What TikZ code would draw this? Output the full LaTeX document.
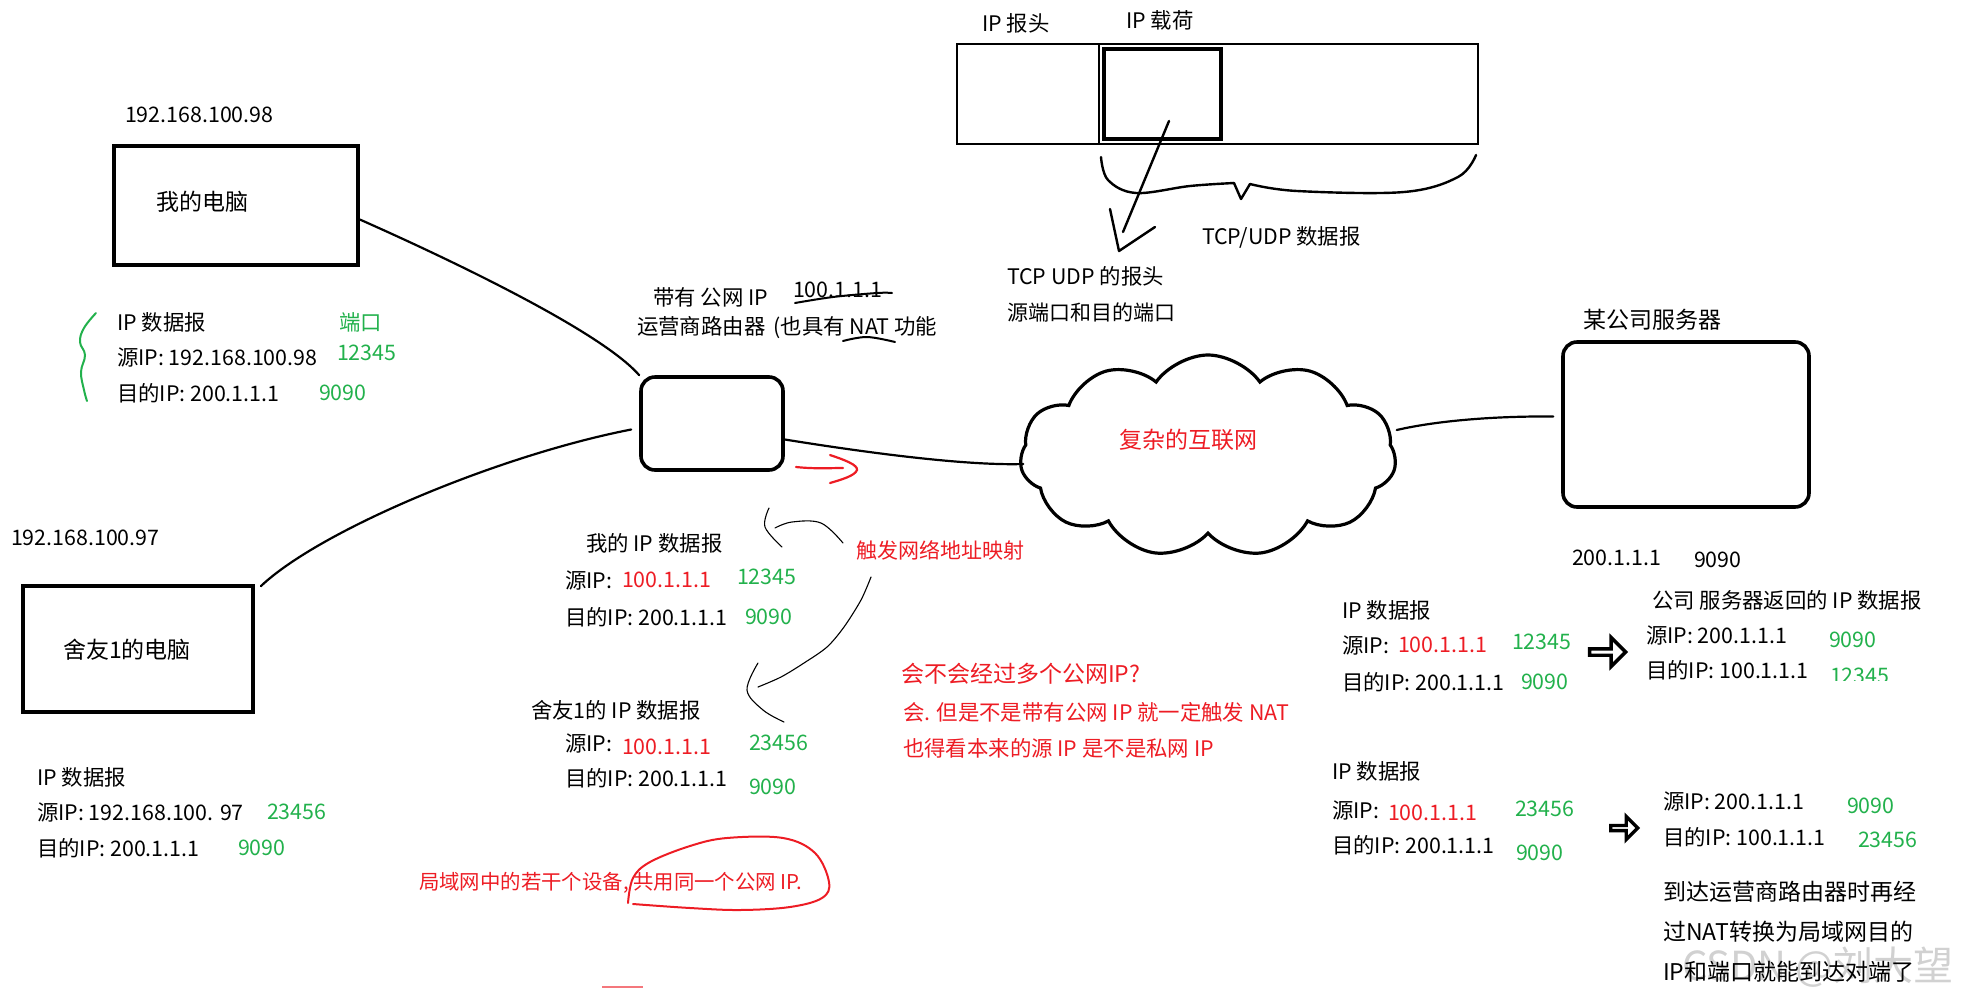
\documentclass[tikz,border=0pt]{standalone}
\usepackage{fontspec}
\setmainfont{Noto Sans CJK SC}
\usetikzlibrary{shapes.symbols,shapes.arrows}
\definecolor{pred}{HTML}{ED1C24}
\definecolor{pgreen}{HTML}{22B14C}
\newcommand{\fsA}{\fontsize{10.7}{12}\selectfont}
\newcommand{\fsB}{\fontsize{11.5}{13}\selectfont}
\newcommand{\fsC}{\fontsize{10.5}{12}\selectfont}
\newcommand{\fsD}{\fontsize{10.2}{12}\selectfont}
\begin{document}
\begin{tikzpicture}[x=0.5pt,y=-0.5pt,
  txt/.style={anchor=west, inner sep=0pt, outer sep=0pt, font=\fsA},
  rt/.style={txt, text=pred},
  gt/.style={txt, text=pgreen},
  boxA/.style={draw, line width=1.8pt, inner sep=0pt},
  wire/.style={line width=1.1pt, line cap=round},
  thinline/.style={line width=0.55pt, line cap=round},
  fatarrow/.style={single arrow, draw, line width=1.7pt, inner sep=0pt, single arrow head extend=3pt}]
\useasboundingbox (0,0) rectangle (1965,1002);
% watermark
\node[txt, font=\fontsize{20}{22}\selectfont, text=black!18] (wm) at (1682,967) {CSDN @刘大望};

% ---------- boxes ----------
\node[boxA, minimum width=122pt, minimum height=59.5pt] (pc1) at (236,205.5) {};
\node[boxA, minimum width=115pt, minimum height=63pt] (pc2) at (138,649) {};
\node[boxA, rounded corners=7pt, minimum width=71pt, minimum height=46.5pt] (router) at (712,423.5) {};
\node[boxA, rounded corners=7pt, minimum width=123pt, minimum height=82.5pt] (server) at (1686,424.5) {};
\node[cloud, draw, cloud puffs=11, cloud puff arc=110, aspect=1.9, line width=1.6pt, minimum width=188pt, minimum height=101pt, inner sep=0pt] (net) at (1208,456) {};

% IP packet
\node[draw, line width=1.4pt, minimum width=260.5pt, minimum height=50pt, inner sep=0pt] (pkt) at (1217.5,94) {};
\draw[line width=1.4pt] (1099,44) -- (1099,144);
\node[draw, line width=1.9pt, minimum width=58.5pt, minimum height=45pt, inner sep=0pt] (payload) at (1162.5,94) {};

% ---------- connectors ----------
\draw[wire] ([yshift=-7pt]pc1.east) .. controls (440,255) and (600,330) .. (router.north west);
\draw[wire] ([xshift=3pt,yshift=-1pt]pc2.north east) .. controls (320,530) and (500,455) .. ([shift={(-4pt,-3pt)}]router.west);
\draw[wire] ([yshift=-8pt]router.east) .. controls (850,450) and (960,466) .. ([xshift=2pt,yshift=-4pt]net.west);
\draw[wire] ([yshift=13pt]net.east) .. controls (1440,420) and (1500,416) .. ([xshift=-4pt,yshift=4pt]server.west);

% red arrow near router
\draw[pred, line width=1.1pt, line cap=round] (796,467) .. controls (815,469) and (830,468) .. (843,468);
\draw[pred, line width=1.1pt, line cap=round] (830,455) .. controls (845,460) and (858,465) .. (857,470) .. controls (855,476) and (840,480) .. (830,483);

% packet arrow and brace
\draw[line width=1.2pt, line cap=round] (1169,121) -- (1123,232);
\draw[line width=1.2pt, line cap=round, line join=round] (1110,209) -- (1119,251) -- (1155,227);
\draw[line width=1.2pt, line cap=round] plot[smooth, tension=0.6] coordinates {(1101,157) (1108,180) (1136,193) (1190,186) (1234,183)};
\draw[line width=1.2pt, line cap=round, line join=round] (1234,183) -- (1241,199) -- (1250,184);
\draw[line width=1.2pt, line cap=round] plot[smooth, tension=0.6] coordinates {(1250,184) (1297,191) (1404,192) (1458,177) (1476,155)};

% green brace
\draw[pgreen, line width=1pt, line cap=round] plot[smooth, tension=0.7] coordinates {(96,313) (84,328) (80,342) (85,355) (81,372) (84,390) (87,401)};

% underlines near router label
\draw[line width=1pt, line cap=round] plot[smooth, tension=0.6] coordinates {(795,303) (833,297) (877,293) (892,293)};
\draw[line width=1pt, line cap=round] plot[smooth, tension=0.6] coordinates {(843,341) (867,337) (895,342)};

% thin trigger arrows
\draw[thinline] plot[smooth, tension=0.6] coordinates {(769,508) (765,527) (782,547)};
\draw[thinline] plot[smooth, tension=0.6] coordinates {(775,528) (792,522) (821,523) (843,543)};
\draw[thinline] plot[smooth, tension=0.5] coordinates {(871,577) (861,600) (844,627) (827,647) (804,663) (781,677) (758,687)};
\draw[thinline] plot[smooth, tension=0.6] coordinates {(758,663) (747,690) (763,710) (784,722)};

% red ellipse
\draw[pred, line width=1pt, line cap=round] plot[smooth, tension=0.6] coordinates {(628,903) (633,878) (650,862) (690,846) (727,838) (783,838) (815,853) (829,882) (822,898) (790,907) (740,910) (690,908) (633,904)};
\draw[pred!60, line width=0.8pt] (602,987) -- (643,987);

% fat arrows
\node[fatarrow, minimum height=18pt, minimum width=14.5pt] (fa1) at (1606,652) {};
\node[fatarrow, minimum height=13.5pt, minimum width=11.5pt] (fa2) at (1623,828) {};

% ---------- texts ----------
\node[txt] (t1) at (125,115) {192.168.100.98};
\node[txt, font=\fsB] (t2) at (156,202) {我的电脑};
\node[txt] (t3) at (117,322) {IP 数据报};
\node[gt] (t4) at (339,322) {端口};
\node[txt] (t5) at (117,357) {源IP: 192.168.100.98};
\node[gt] (t6) at (337,353) {12345};
\node[txt] (t7) at (117,393) {目的IP: 200.1.1.1};
\node[gt] (t8) at (319,393) {9090};

\node[txt] (t9) at (11,538) {192.168.100.97};
\node[txt, font=\fsB] (t10) at (63,650) {舍友1的电脑};
\node[txt] (t11) at (37,777) {IP 数据报};
\node[txt] (t12) at (37,812) {源IP: 192.168.100. 97};
\node[gt] (t13) at (267,812) {23456};
\node[txt] (t14) at (37,848) {目的IP: 200.1.1.1};
\node[gt] (t15) at (238,848) {9090};

\node[txt] (t16) at (653,297) {带有 公网 IP};
\node[txt] (t17) at (793,290) {100.1.1.1};
\node[txt] (t18) at (637,328) {运营商路由器\hspace{4pt}(也具有 NAT 功能};

\node[txt] (t19) at (586,543) {我的 IP 数据报};
\node[txt] (t20) at (565,580) {源IP:};
\node[rt] (t21) at (622,580) {100.1.1.1};
\node[gt] (t22) at (737,577) {12345};
\node[txt] (t23) at (565,617) {目的IP: 200.1.1.1};
\node[gt] (t24) at (745,617) {9090};

\node[txt] (t25) at (531,710) {舍友1的 IP 数据报};
\node[txt] (t26) at (565,743) {源IP:};
\node[rt] (t27) at (622,747) {100.1.1.1};
\node[gt] (t28) at (749,743) {23456};
\node[txt] (t29) at (565,778) {目的IP: 200.1.1.1};
\node[gt] (t30) at (749,787) {9090};

\node[rt, font=\fsC] (t31) at (856,550) {触发网络地址映射};
\node[rt, font=\fsD] (t32) at (419,883) {局域网中的若干个设备, 共用同一个公网 IP.};
\node[rt, font=\fsB] (t33) at (901,674) {会不会经过多个公网IP?};
\node[rt] (t34) at (903,712) {会. 但是不是带有公网 IP 就一定触发 NAT};
\node[rt] (t35) at (903,748) {也得看本来的源 IP 是不是私网 IP};

\node[txt] (t36) at (982,23) {IP 报头};
\node[txt] (t37) at (1126,20) {IP 载荷};
\node[txt] (t38) at (1202,237) {TCP/UDP 数据报};
\node[txt] (t39) at (1007,276) {TCP UDP 的报头};
\node[txt, font=\fsC] (t40) at (1007,312) {源端口和目的端口};

\node[txt, font=\fsB] (t41) at (1583,320) {某公司服务器};
\node[rt, font=\fsB] (t42) at (1119,440) {复杂的互联网};
\node[txt] (t43) at (1572,558) {200.1.1.1};
\node[txt] (t44) at (1694,560) {9090};

\node[txt] (r1) at (1342,610) {IP 数据报};
\node[txt] (r2) at (1342,645) {源IP:};
\node[rt] (r3) at (1398,645) {100.1.1.1};
\node[gt] (r4) at (1512,642) {12345};
\node[txt] (r5) at (1342,682) {目的IP: 200.1.1.1};
\node[gt] (r6) at (1521,682) {9090};

\node[txt] (s1) at (1652,600) {公司 服务器返回的 IP 数据报};
\node[txt] (s2) at (1646,635) {源IP: 200.1.1.1};
\node[gt] (s3) at (1829,640) {9090};
\node[txt] (s4) at (1646,670) {目的IP: 100.1.1.1};
\begin{scope}
\clip (1800,650) rectangle (1950,680);
\node[gt] (s5) at (1830,676) {12345};
\end{scope}

\node[txt] (q1) at (1332,771) {IP 数据报};
\node[txt] (q2) at (1332,810) {源IP:};
\node[rt] (q3) at (1388,813) {100.1.1.1};
\node[gt] (q4) at (1515,809) {23456};
\node[txt] (q5) at (1332,845) {目的IP: 200.1.1.1};
\node[gt] (q6) at (1516,853) {9090};

\node[txt] (u1) at (1663,801) {源IP: 200.1.1.1};
\node[gt] (u2) at (1847,806) {9090};
\node[txt] (u3) at (1663,837) {目的IP: 100.1.1.1};
\node[gt] (u4) at (1858,840) {23456};
\node[txt, font=\fsB] (u5) at (1663,892) {到达运营商路由器时再经};
\node[txt, font=\fsB] (u6) at (1663,932) {过NAT转换为局域网目的};
\node[txt, font=\fsB] (u7) at (1663,972) {IP和端口就能到达对端了};
\end{tikzpicture}
\end{document}
